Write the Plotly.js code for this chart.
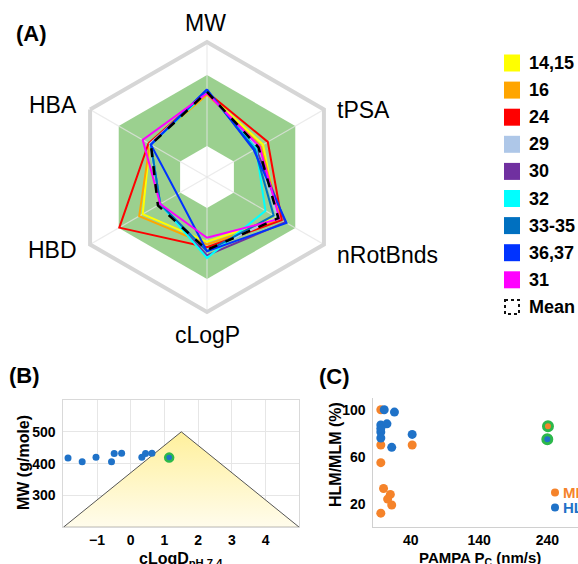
<!DOCTYPE html>
<html><head><meta charset="utf-8">
<script src="https://cdn.plot.ly/plotly-3.0.1.min.js"></script>
<style>html,body{margin:0;padding:0;background:#fff}#chart{width:578px;height:564px}</style>
</head><body><div id="chart"></div>
<script>
// ---------- Panel A: radar ----------
const radarAxes = ['MW', 'tPSA', 'nRotBnds', 'cLogP', 'HBD', 'HBA'];
const seriesNames = ['14,15', '16', '24', '29', '30', '32', '33-35', '36,37', '31'];
const seriesColors = ['#ffff00', '#ffa500', '#ff0000', '#aec7e8', '#7030a0', '#00ffff', '#0070c0', '#0033ff', '#ff00ff'];
// order: MW, tPSA, nRotBnds, cLogP, HBD, HBA (normalised 0..1)
const s14_15 = [0.62, 0.48, 0.60, 0.48, 0.55, 0.49];
const s16    = [0.61, 0.46, 0.63, 0.50, 0.58, 0.49];
const s24    = [0.63, 0.52, 0.64, 0.52, 0.75, 0.50];
const s29    = [0.63, 0.43, 0.60, 0.55, 0.40, 0.49];
const s30    = [0.64, 0.42, 0.67, 0.58, 0.40, 0.48];
const s32    = [0.63, 0.42, 0.50, 0.60, 0.40, 0.48];
const s33_35 = [0.64, 0.41, 0.57, 0.55, 0.40, 0.48];
const s36_37 = [0.65, 0.40, 0.68, 0.55, 0.255, 0.48];
const s31    = [0.62, 0.45, 0.62, 0.45, 0.40, 0.55];
const meanName = 'Mean';
const meanValues = [0.63, 0.44, 0.61, 0.54, 0.42, 0.48];
const seriesValues = [s14_15, s16, s24, s29, s30, s32, s33_35, s36_37, s31];
const greenBandOuter = 0.755;
const whiteCoreInner = 0.23;

// ---------- Panel B: MW vs cLogD ----------
const bLogD = [-1.86, -1.44, -1.03, -0.57, -0.49, -0.27, 0.33, 0.44, 0.63];
const bMW   = [418, 406, 420, 406, 432, 433, 420, 432, 433];
const bHitLogD = [1.14];
const bHitMW   = [419];
const triLogD = [-2, 1.5, 5, -2];
const triMW   = [200, 500, 200, 200];
const bXTicks = [-1, 0, 1, 2, 3, 4];
const bYTicks = [300, 400, 500];
const bXTitle = 'cLogD<sub>pH 7.4</sub>';
const bYTitle = 'MW (g/mole)';

// ---------- Panel C: microsomal stability vs PAMPA ----------
const mlmPampa = [-4, -4, -4, 0, 10, 6, 12, -4, 42];
const mlmStab  = [100, 70, 55, 33, 28, 24, 19, 12, 70];
const hlmPampa = [1, 16, -4, 5, -4, -4, 12, 42, -4];
const hlmStab  = [100, 98, 87, 88, 81, 76, 68, 79, 84];
const mlmHitPampa = [241], mlmHitStab = [86];
const hlmHitPampa = [240], hlmHitStab = [75];
const cXTicks = [40, 140, 240];
const cYTicks = [20, 60, 100];
const cLegend = ['MLM', 'HLM'];
const cXTitle = 'PAMPA P<sub>C</sub> (nm/s)';
const cYTitle = 'HLM/MLM (%)';

const W = 578, H = 564;
const FONT = 'Arial, "Liberation Sans", sans-serif';
const close = a => a.concat([a[0]]);
const thetaClosed = close(radarAxes);
const px = x => x / W, py = y => 1 - y / H;

const traces = [];
// green band + white core
traces.push({type: 'scatterpolar', subplot: 'polar', r: radarAxes.map(() => greenBandOuter).concat([greenBandOuter]),
  theta: thetaClosed, mode: 'lines', fill: 'toself', fillcolor: '#9bd08f', line: {width: 0, color: '#9bd08f'},
  hoverinfo: 'skip', showlegend: false});
traces.push({type: 'scatterpolar', subplot: 'polar', r: radarAxes.map(() => whiteCoreInner).concat([whiteCoreInner]),
  theta: thetaClosed, mode: 'lines', fill: 'toself', fillcolor: '#ffffff', line: {width: 0, color: '#ffffff'},
  hoverinfo: 'skip', showlegend: false});
// spokes
const spokeR = [], spokeT = [];
radarAxes.forEach(a => { spokeR.push(0, 1, null); spokeT.push(a, a, null); });
traces.push({type: 'scatterpolar', subplot: 'polar', r: spokeR, theta: spokeT, mode: 'lines',
  line: {width: 1.2, color: 'rgba(228,228,228,0.75)'}, hoverinfo: 'skip', showlegend: false, connectgaps: false});
seriesValues.forEach((v, i) => {
  traces.push({type: 'scatterpolar', subplot: 'polar', name: seriesNames[i], r: close(v), theta: thetaClosed,
    mode: 'lines', line: {color: seriesColors[i], width: 2}, showlegend: false});
});
traces.push({type: 'scatterpolar', subplot: 'polar', name: meanName, r: close(meanValues), theta: thetaClosed,
  mode: 'lines', line: {color: '#000000', width: 2.5, dash: 'dash'}, showlegend: false});

// Panel B
traces.push({type: 'scatter', xaxis: 'x', yaxis: 'y', x: triLogD, y: triMW, mode: 'lines', fill: 'toself',
  fillgradient: {type: 'vertical', colorscale: [[0, '#fffcec'], [1, '#fff09c']]},
  line: {color: '#555555', width: 1}, hoverinfo: 'skip', showlegend: false});
traces.push({type: 'scatter', xaxis: 'x', yaxis: 'y', x: bLogD, y: bMW, mode: 'markers',
  marker: {color: '#1f72c8', size: 7}, showlegend: false});
traces.push({type: 'scatter', xaxis: 'x', yaxis: 'y', x: bHitLogD, y: bHitMW, mode: 'markers',
  marker: {color: '#1f72c8', size: 8, line: {color: '#2cb84b', width: 2.5}}, showlegend: false});

// Panel C
traces.push({type: 'scatter', xaxis: 'x2', yaxis: 'y2', x: mlmPampa, y: mlmStab, mode: 'markers', name: 'MLM',
  marker: {color: '#f5832a', size: 9}, showlegend: false, cliponaxis: false});
traces.push({type: 'scatter', xaxis: 'x2', yaxis: 'y2', x: hlmPampa, y: hlmStab, mode: 'markers', name: 'HLM',
  marker: {color: '#1f72c8', size: 9}, showlegend: false, cliponaxis: false});
traces.push({type: 'scatter', xaxis: 'x2', yaxis: 'y2', x: mlmHitPampa, y: mlmHitStab, mode: 'markers',
  marker: {color: '#f5832a', size: 9, line: {color: '#2cb84b', width: 3}}, showlegend: false});
traces.push({type: 'scatter', xaxis: 'x2', yaxis: 'y2', x: hlmHitPampa, y: hlmHitStab, mode: 'markers',
  marker: {color: '#1f72c8', size: 9, line: {color: '#2cb84b', width: 3}}, showlegend: false});

const shapes = [], annotations = [];
// Radar axis labels (placed as in the reference)
const radarLabelPos = [[205, 23, 'center'], [335, 110, 'left'], [335, 255, 'left'], [207, 335, 'center'], [79, 250, 'right'], [79, 105, 'right']];
radarAxes.forEach((a, i) => {
  const [x, y, anc] = radarLabelPos[i];
  annotations.push({xref: 'paper', yref: 'paper', x: px(x), y: py(y), xanchor: anc, yanchor: 'middle',
    text: a, showarrow: false, font: {family: FONT, size: 23, color: '#000'}});
});
// Legend A (manual)
const legTop = 63, legStep = 27.1;
seriesNames.concat([meanName]).forEach((n, i) => {
  const yc = legTop + i * legStep;
  if (i < seriesNames.length) {
    shapes.push({type: 'rect', xref: 'paper', yref: 'paper', x0: px(504), x1: px(520), y0: py(yc - 8.5), y1: py(yc + 8.5),
      fillcolor: seriesColors[i], line: {width: 0}});
  } else {
    shapes.push({type: 'rect', xref: 'paper', yref: 'paper', x0: px(505), x1: px(519), y0: py(yc - 7), y1: py(yc + 7),
      fillcolor: 'rgba(0,0,0,0)', line: {width: 2, color: '#111', dash: 'dot'}});
  }
  annotations.push({xref: 'paper', yref: 'paper', x: px(527), y: py(yc), xanchor: 'left', yanchor: 'middle',
    text: '<b>' + n + '</b>', showarrow: false, font: {family: FONT, size: 18, color: '#000'}});
});
// Legend C (manual)
const cLegColors = ['#f5832a', '#1f72c8'];
cLegend.forEach((n, i) => {
  const yc = 492.5 + i * 15;
  shapes.push({type: 'circle', xref: 'paper', yref: 'paper', x0: px(551), x1: px(559), y0: py(yc - 4), y1: py(yc + 4),
    fillcolor: cLegColors[i], line: {width: 0}});
  annotations.push({xref: 'paper', yref: 'paper', x: px(561), y: py(yc), xanchor: 'left', yanchor: 'middle',
    text: '<b>' + n + '</b>', showarrow: false, font: {family: FONT, size: 15, color: cLegColors[i]}});
});
// Panel labels
[['(A)', 31, 33], ['(B)', 25, 375], ['(C)', 334, 376]].forEach(([t, x, y]) => {
  annotations.push({xref: 'paper', yref: 'paper', x: px(x), y: py(y), xanchor: 'center', yanchor: 'middle',
    text: '<b>' + t + '</b>', showarrow: false, font: {family: FONT, size: 22, color: '#000'}});
});
// Axis titles (as annotations for exact placement)
annotations.push({xref: 'paper', yref: 'paper', x: px(181), y: py(548), xanchor: 'center', yanchor: 'top',
  text: '<b>' + bXTitle + '</b>', showarrow: false, font: {family: FONT, size: 16, color: '#000'}});
annotations.push({xref: 'paper', yref: 'paper', x: px(23), y: py(463), xanchor: 'center', yanchor: 'middle', textangle: -90,
  text: '<b>' + bYTitle + '</b>', showarrow: false, font: {family: FONT, size: 16, color: '#000'}});
annotations.push({xref: 'paper', yref: 'paper', x: px(480), y: py(547), xanchor: 'center', yanchor: 'top',
  text: '<b>' + cXTitle + '</b>', showarrow: false, font: {family: FONT, size: 15, color: '#000'}});
annotations.push({xref: 'paper', yref: 'paper', x: px(335), y: py(455), xanchor: 'center', yanchor: 'middle', textangle: -90,
  text: '<b>' + cYTitle + '</b>', showarrow: false, font: {family: FONT, size: 16, color: '#000'}});

const tickFont = {family: FONT, size: 14, color: '#000', weight: 'bold'};
const layout = {
  width: W, height: H, margin: {l: 0, r: 0, t: 0, b: 0}, paper_bgcolor: '#fff', plot_bgcolor: '#fff',
  font: {family: FONT, color: '#000'}, showlegend: false,
  polar: {
    domain: {x: [px(72), px(342)], y: [py(312), py(42)]},
    gridshape: 'linear', bgcolor: 'rgba(0,0,0,0)',
    radialaxis: {range: [0, 1], visible: false, showgrid: false},
    angularaxis: {type: 'category', categoryarray: radarAxes, rotation: 90, direction: 'clockwise',
      showgrid: false, linecolor: '#d6d6d6', linewidth: 4, ticks: '', showticklabels: false}
  },
  xaxis: {domain: [px(63.3), px(299.3)], range: [-2, 5], tickvals: bXTicks, showgrid: true, gridcolor: '#e6e6e6',
    zeroline: false, showline: true, mirror: true, linecolor: '#d9d9d9', linewidth: 1, ticks: '', tickfont: tickFont,
    ticklabelstandoff: 0},
  yaxis: {domain: [py(527.3), py(400)], range: [200, 600], tickvals: bYTicks, showgrid: true, gridcolor: '#e6e6e6',
    zeroline: false, showline: true, mirror: true, linecolor: '#d9d9d9', linewidth: 1, ticks: '', tickfont: tickFont,
    ticklabelstandoff: 4},
  xaxis2: {domain: [px(373.3), 1], range: [-15, 285], tickvals: cXTicks, showgrid: false, zeroline: false,
    showline: true, linecolor: '#d0d0d0', linewidth: 1, ticks: '', tickfont: tickFont, anchor: 'y2',
    ticklabelstandoff: 0},
  yaxis2: {domain: [py(527.3), py(398)], range: [0, 110], tickvals: cYTicks, showgrid: false, zeroline: false,
    showline: true, linecolor: '#d0d0d0', linewidth: 1, ticks: '', tickfont: tickFont, anchor: 'x2',
    ticklabelstandoff: 4},
  shapes: shapes, annotations: annotations
};
Plotly.newPlot('chart', traces, layout, {displayModeBar: false, staticPlot: true});
</script></body></html>
